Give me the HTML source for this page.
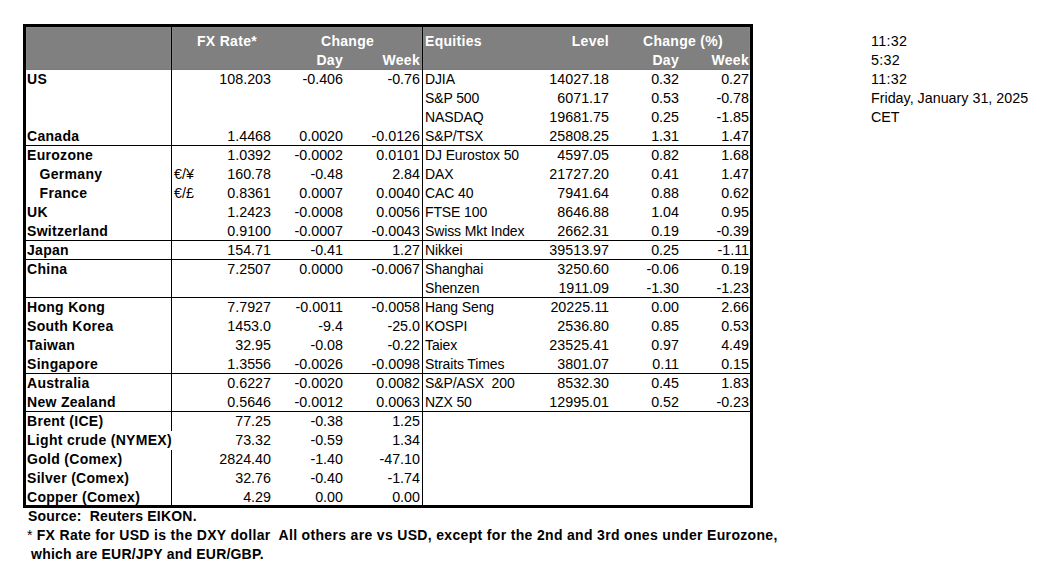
<!DOCTYPE html>
<html><head><meta charset="utf-8"><style>
html,body{margin:0;padding:0;background:#fff;}
#c{position:relative;width:1041px;height:581px;overflow:hidden;background:#fff;}
.t{position:absolute;font-family:"Liberation Sans",sans-serif;font-size:14.3px;line-height:16px;color:#000;white-space:pre;}
.bd{font-weight:bold;font-size:14px;letter-spacing:0.3px;}
.h{font-weight:bold;color:#fff;font-size:14px;letter-spacing:0.3px;}
.b{position:absolute;}
.eq{font-size:14px;letter-spacing:-0.12px;}
.f1{letter-spacing:0.2px;}
.f2{letter-spacing:0.33px;}
.ts{letter-spacing:0.3px;}
.nw{font-weight:normal;letter-spacing:0;}
</style></head><body><div id="c">
<div class="b" style="left:26px;top:27px;width:724px;height:43px;background:#808080"></div>
<div class="b" style="left:26px;top:27px;width:724px;height:1px;background:#878787"></div>
<div class="b" style="left:26px;top:69px;width:724px;height:1px;background:#7a7a7a"></div>
<div class="b" style="left:26px;top:27px;width:1px;height:43px;background:#878787"></div>
<div class="b" style="left:749px;top:27px;width:1px;height:43px;background:#878787"></div>
<div class="b" style="left:170px;top:27px;width:1px;height:42px;background:#878787"></div>
<div class="b" style="left:172px;top:27px;width:1px;height:42px;background:#878787"></div>
<div class="b" style="left:421px;top:27px;width:1px;height:42px;background:#878787"></div>
<div class="b" style="left:423px;top:27px;width:1px;height:42px;background:#878787"></div>
<div class="b" style="left:23px;top:24px;width:730px;height:3px;background:#000"></div>
<div class="b" style="left:23px;top:505px;width:730px;height:3px;background:#000"></div>
<div class="b" style="left:23px;top:24px;width:3px;height:484px;background:#000"></div>
<div class="b" style="left:750px;top:24px;width:3px;height:484px;background:#000"></div>
<div class="b" style="left:171px;top:27px;width:1px;height:404px;background:#000"></div>
<div class="b" style="left:171px;top:450px;width:1px;height:55px;background:#000"></div>
<div class="b" style="left:422px;top:27px;width:1px;height:478px;background:#000"></div>
<div class="b" style="left:26px;top:145px;width:724px;height:1px;background:#000"></div>
<div class="b" style="left:26px;top:240px;width:724px;height:1px;background:#000"></div>
<div class="b" style="left:26px;top:259px;width:724px;height:1px;background:#000"></div>
<div class="b" style="left:26px;top:297px;width:724px;height:1px;background:#000"></div>
<div class="b" style="left:26px;top:373px;width:724px;height:1px;background:#000"></div>
<div class="b" style="left:26px;top:411px;width:724px;height:1px;background:#000"></div>
<div class="t h" style="left:197px;top:33px">FX Rate*</div>
<div class="t h" style="left:321px;top:33px">Change</div>
<div class="t r h" style="right:698px;top:52px">Day</div>
<div class="t r h" style="right:621px;top:52px">Week</div>
<div class="t h" style="left:425px;top:33px">Equities</div>
<div class="t r h" style="right:432px;top:33px">Level</div>
<div class="t h" style="left:643px;top:33px">Change (%)</div>
<div class="t r h" style="right:362px;top:52px">Day</div>
<div class="t r h" style="right:292px;top:52px">Week</div>
<div class="t bd" style="left:27px;top:71px">US</div>
<div class="t r " style="right:770px;top:71px">108.203</div>
<div class="t r " style="right:698px;top:71px">-0.406</div>
<div class="t r " style="right:621px;top:71px">-0.76</div>
<div class="t eq" style="left:425px;top:71px">DJIA</div>
<div class="t r " style="right:432px;top:71px">14027.18</div>
<div class="t r " style="right:362px;top:71px">0.32</div>
<div class="t r " style="right:292px;top:71px">0.27</div>
<div class="t eq" style="left:425px;top:90px">S&amp;P 500</div>
<div class="t r " style="right:432px;top:90px">6071.17</div>
<div class="t r " style="right:362px;top:90px">0.53</div>
<div class="t r " style="right:292px;top:90px">-0.78</div>
<div class="t eq" style="left:425px;top:109px">NASDAQ</div>
<div class="t r " style="right:432px;top:109px">19681.75</div>
<div class="t r " style="right:362px;top:109px">0.25</div>
<div class="t r " style="right:292px;top:109px">-1.85</div>
<div class="t bd" style="left:27px;top:128px">Canada</div>
<div class="t r " style="right:770px;top:128px">1.4468</div>
<div class="t r " style="right:698px;top:128px">0.0020</div>
<div class="t r " style="right:621px;top:128px">-0.0126</div>
<div class="t eq" style="left:425px;top:128px">S&amp;P/TSX</div>
<div class="t r " style="right:432px;top:128px">25808.25</div>
<div class="t r " style="right:362px;top:128px">1.31</div>
<div class="t r " style="right:292px;top:128px">1.47</div>
<div class="t bd" style="left:27px;top:147px">Eurozone</div>
<div class="t r " style="right:770px;top:147px">1.0392</div>
<div class="t r " style="right:698px;top:147px">-0.0002</div>
<div class="t r " style="right:621px;top:147px">0.0101</div>
<div class="t eq" style="left:425px;top:147px">DJ Eurostox 50</div>
<div class="t r " style="right:432px;top:147px">4597.05</div>
<div class="t r " style="right:362px;top:147px">0.82</div>
<div class="t r " style="right:292px;top:147px">1.68</div>
<div class="t bd" style="left:27px;top:166px">&nbsp;&nbsp;&nbsp;Germany</div>
<div class="t " style="left:174px;top:166px">€/¥</div>
<div class="t r " style="right:770px;top:166px">160.78</div>
<div class="t r " style="right:698px;top:166px">-0.48</div>
<div class="t r " style="right:621px;top:166px">2.84</div>
<div class="t eq" style="left:425px;top:166px">DAX</div>
<div class="t r " style="right:432px;top:166px">21727.20</div>
<div class="t r " style="right:362px;top:166px">0.41</div>
<div class="t r " style="right:292px;top:166px">1.47</div>
<div class="t bd" style="left:27px;top:185px">&nbsp;&nbsp;&nbsp;France</div>
<div class="t " style="left:174px;top:185px">€/£</div>
<div class="t r " style="right:770px;top:185px">0.8361</div>
<div class="t r " style="right:698px;top:185px">0.0007</div>
<div class="t r " style="right:621px;top:185px">0.0040</div>
<div class="t eq" style="left:425px;top:185px">CAC 40</div>
<div class="t r " style="right:432px;top:185px">7941.64</div>
<div class="t r " style="right:362px;top:185px">0.88</div>
<div class="t r " style="right:292px;top:185px">0.62</div>
<div class="t bd" style="left:27px;top:204px">UK</div>
<div class="t r " style="right:770px;top:204px">1.2423</div>
<div class="t r " style="right:698px;top:204px">-0.0008</div>
<div class="t r " style="right:621px;top:204px">0.0056</div>
<div class="t eq" style="left:425px;top:204px">FTSE 100</div>
<div class="t r " style="right:432px;top:204px">8646.88</div>
<div class="t r " style="right:362px;top:204px">1.04</div>
<div class="t r " style="right:292px;top:204px">0.95</div>
<div class="t bd" style="left:27px;top:223px">Switzerland</div>
<div class="t r " style="right:770px;top:223px">0.9100</div>
<div class="t r " style="right:698px;top:223px">-0.0007</div>
<div class="t r " style="right:621px;top:223px">-0.0043</div>
<div class="t eq" style="left:425px;top:223px">Swiss Mkt Index</div>
<div class="t r " style="right:432px;top:223px">2662.31</div>
<div class="t r " style="right:362px;top:223px">0.19</div>
<div class="t r " style="right:292px;top:223px">-0.39</div>
<div class="t bd" style="left:27px;top:242px">Japan</div>
<div class="t r " style="right:770px;top:242px">154.71</div>
<div class="t r " style="right:698px;top:242px">-0.41</div>
<div class="t r " style="right:621px;top:242px">1.27</div>
<div class="t eq" style="left:425px;top:242px">Nikkei</div>
<div class="t r " style="right:432px;top:242px">39513.97</div>
<div class="t r " style="right:362px;top:242px">0.25</div>
<div class="t r " style="right:292px;top:242px">-1.11</div>
<div class="t bd" style="left:27px;top:261px">China</div>
<div class="t r " style="right:770px;top:261px">7.2507</div>
<div class="t r " style="right:698px;top:261px">0.0000</div>
<div class="t r " style="right:621px;top:261px">-0.0067</div>
<div class="t eq" style="left:425px;top:261px">Shanghai</div>
<div class="t r " style="right:432px;top:261px">3250.60</div>
<div class="t r " style="right:362px;top:261px">-0.06</div>
<div class="t r " style="right:292px;top:261px">0.19</div>
<div class="t eq" style="left:425px;top:280px">Shenzen</div>
<div class="t r " style="right:432px;top:280px">1911.09</div>
<div class="t r " style="right:362px;top:280px">-1.30</div>
<div class="t r " style="right:292px;top:280px">-1.23</div>
<div class="t bd" style="left:27px;top:299px">Hong Kong</div>
<div class="t r " style="right:770px;top:299px">7.7927</div>
<div class="t r " style="right:698px;top:299px">-0.0011</div>
<div class="t r " style="right:621px;top:299px">-0.0058</div>
<div class="t eq" style="left:425px;top:299px">Hang Seng</div>
<div class="t r " style="right:432px;top:299px">20225.11</div>
<div class="t r " style="right:362px;top:299px">0.00</div>
<div class="t r " style="right:292px;top:299px">2.66</div>
<div class="t bd" style="left:27px;top:318px">South Korea</div>
<div class="t r " style="right:770px;top:318px">1453.0</div>
<div class="t r " style="right:698px;top:318px">-9.4</div>
<div class="t r " style="right:621px;top:318px">-25.0</div>
<div class="t eq" style="left:425px;top:318px">KOSPI</div>
<div class="t r " style="right:432px;top:318px">2536.80</div>
<div class="t r " style="right:362px;top:318px">0.85</div>
<div class="t r " style="right:292px;top:318px">0.53</div>
<div class="t bd" style="left:27px;top:337px">Taiwan</div>
<div class="t r " style="right:770px;top:337px">32.95</div>
<div class="t r " style="right:698px;top:337px">-0.08</div>
<div class="t r " style="right:621px;top:337px">-0.22</div>
<div class="t eq" style="left:425px;top:337px">Taiex</div>
<div class="t r " style="right:432px;top:337px">23525.41</div>
<div class="t r " style="right:362px;top:337px">0.97</div>
<div class="t r " style="right:292px;top:337px">4.49</div>
<div class="t bd" style="left:27px;top:356px">Singapore</div>
<div class="t r " style="right:770px;top:356px">1.3556</div>
<div class="t r " style="right:698px;top:356px">-0.0026</div>
<div class="t r " style="right:621px;top:356px">-0.0098</div>
<div class="t eq" style="left:425px;top:356px">Straits Times</div>
<div class="t r " style="right:432px;top:356px">3801.07</div>
<div class="t r " style="right:362px;top:356px">0.11</div>
<div class="t r " style="right:292px;top:356px">0.15</div>
<div class="t bd" style="left:27px;top:375px">Australia</div>
<div class="t r " style="right:770px;top:375px">0.6227</div>
<div class="t r " style="right:698px;top:375px">-0.0020</div>
<div class="t r " style="right:621px;top:375px">0.0082</div>
<div class="t eq" style="left:425px;top:375px">S&amp;P/ASX&nbsp; 200</div>
<div class="t r " style="right:432px;top:375px">8532.30</div>
<div class="t r " style="right:362px;top:375px">0.45</div>
<div class="t r " style="right:292px;top:375px">1.83</div>
<div class="t bd" style="left:27px;top:394px">New Zealand</div>
<div class="t r " style="right:770px;top:394px">0.5646</div>
<div class="t r " style="right:698px;top:394px">-0.0012</div>
<div class="t r " style="right:621px;top:394px">0.0063</div>
<div class="t eq" style="left:425px;top:394px">NZX 50</div>
<div class="t r " style="right:432px;top:394px">12995.01</div>
<div class="t r " style="right:362px;top:394px">0.52</div>
<div class="t r " style="right:292px;top:394px">-0.23</div>
<div class="t bd" style="left:27px;top:413px">Brent (ICE)</div>
<div class="t r " style="right:770px;top:413px">77.25</div>
<div class="t r " style="right:698px;top:413px">-0.38</div>
<div class="t r " style="right:621px;top:413px">1.25</div>
<div class="t bd" style="left:27px;top:432px">Light crude (NYMEX)</div>
<div class="t r " style="right:770px;top:432px">73.32</div>
<div class="t r " style="right:698px;top:432px">-0.59</div>
<div class="t r " style="right:621px;top:432px">1.34</div>
<div class="t bd" style="left:27px;top:451px">Gold (Comex)</div>
<div class="t r " style="right:770px;top:451px">2824.40</div>
<div class="t r " style="right:698px;top:451px">-1.40</div>
<div class="t r " style="right:621px;top:451px">-47.10</div>
<div class="t bd" style="left:27px;top:470px">Silver (Comex)</div>
<div class="t r " style="right:770px;top:470px">32.76</div>
<div class="t r " style="right:698px;top:470px">-0.40</div>
<div class="t r " style="right:621px;top:470px">-1.74</div>
<div class="t bd" style="left:27px;top:489px">Copper (Comex)</div>
<div class="t r " style="right:770px;top:489px">4.29</div>
<div class="t r " style="right:698px;top:489px">0.00</div>
<div class="t r " style="right:621px;top:489px">0.00</div>
<div class="t ts" style="left:871px;top:33px">11:32</div>
<div class="t ts" style="left:871px;top:52px">5:32</div>
<div class="t ts" style="left:871px;top:71px">11:32</div>
<div class="t " style="left:871px;top:90px">Friday, January 31, 2025</div>
<div class="t " style="left:871px;top:109px">CET</div>
<div class="t bd f1" style="left:28px;top:508px">Source:&nbsp; Reuters EIKON.</div>
<div class="t bd f2" style="left:27px;top:527px"><span class='nw'>*</span> FX Rate for USD is the DXY dollar&nbsp; All others are vs USD, except for the 2nd and 3rd ones under Eurozone,</div>
<div class="t bd f1" style="left:27px;top:546px">&nbsp;which are EUR/JPY and EUR/GBP.</div>
</div></body></html>
